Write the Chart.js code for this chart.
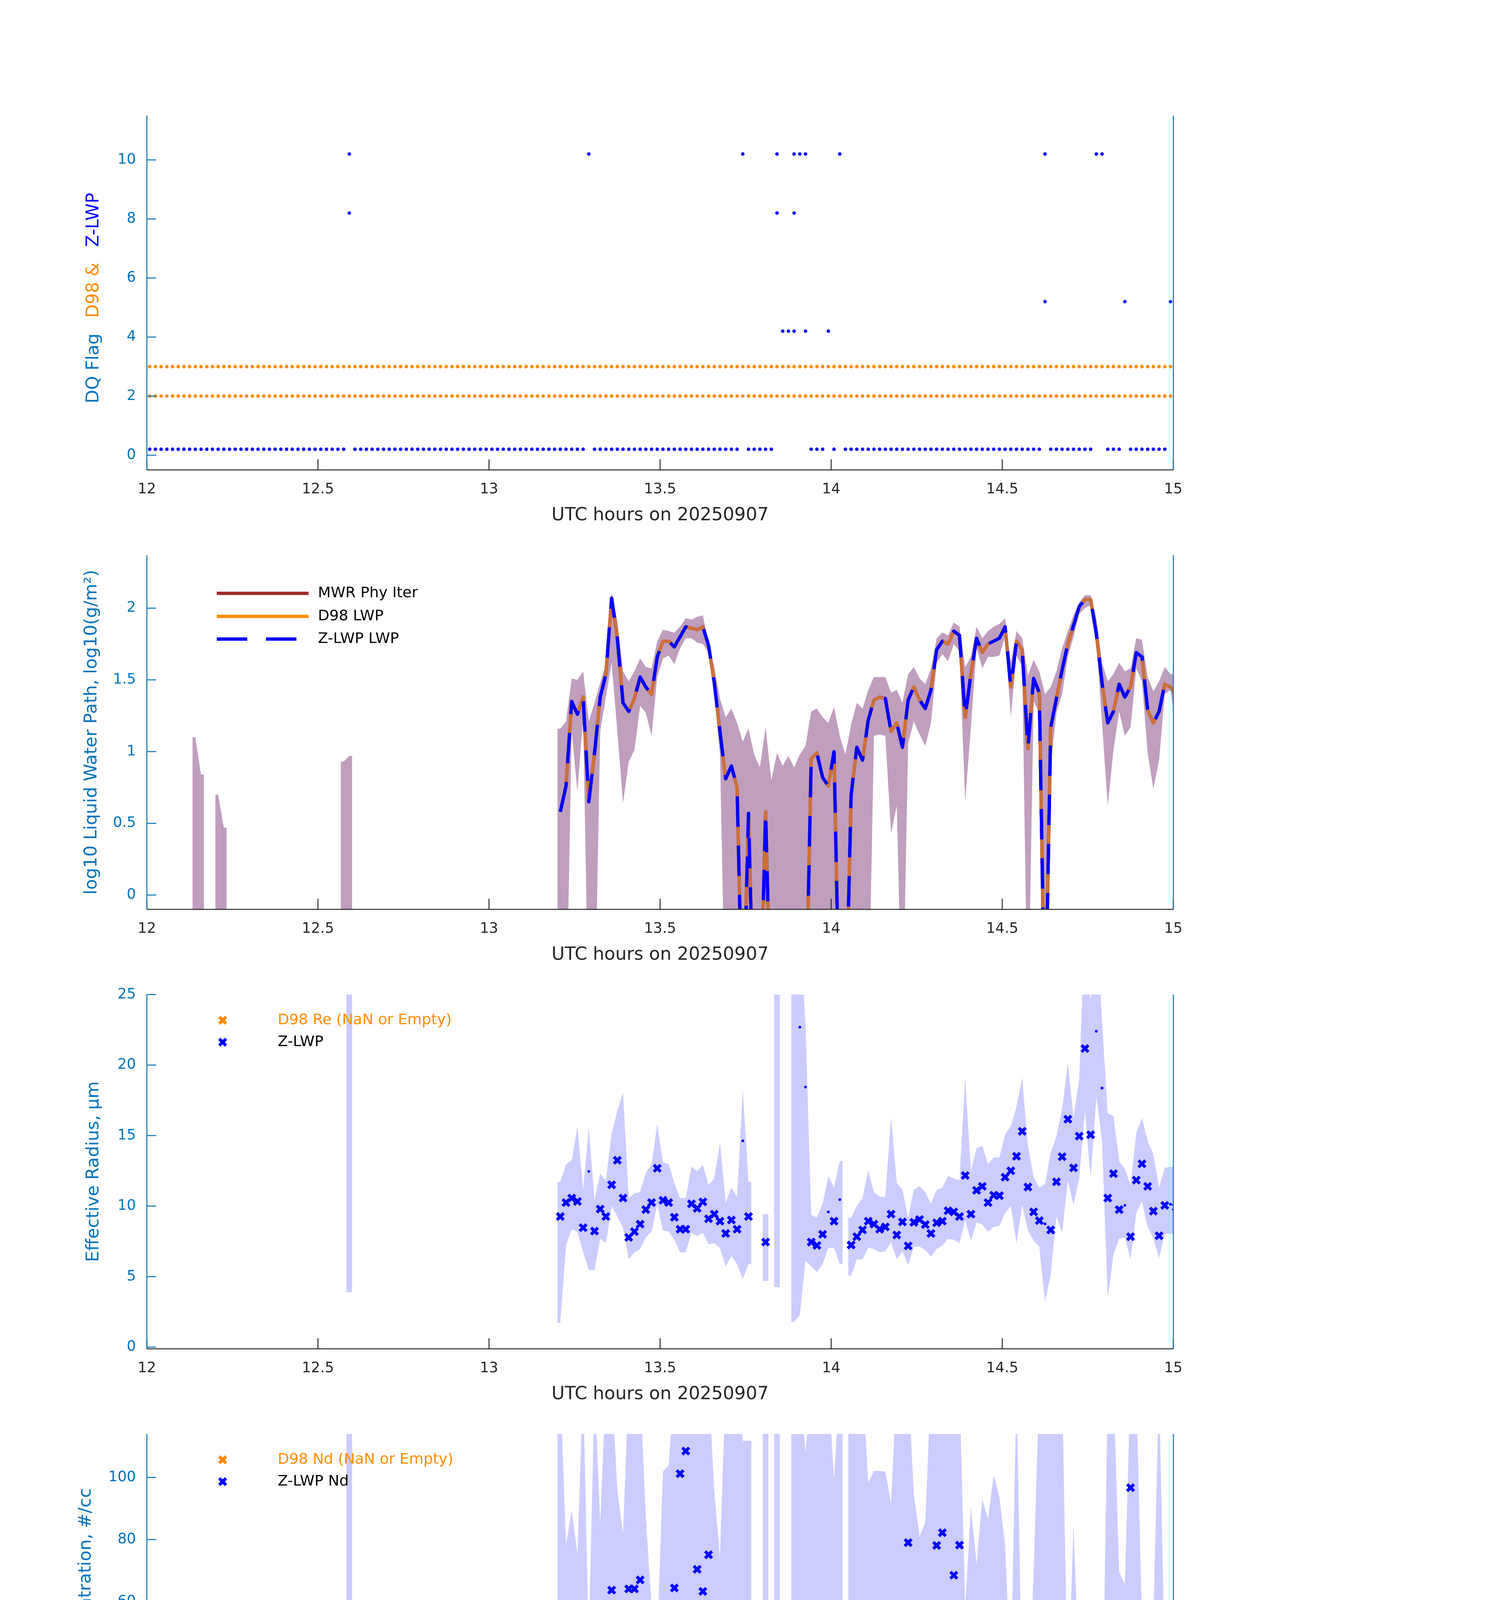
<!DOCTYPE html>
<html>
<head>
<meta charset="utf-8">
<title>Z-LWP retrievals 20250907</title>
<script src="https://cdn.jsdelivr.net/npm/chart.js@4.4.1/dist/chart.umd.min.js"></script>
<style>
    html, body { margin: 0; padding: 0; background: #ffffff; }
    body { width: 3825px; height: 6000px; position: relative; overflow: hidden; }
    canvas { position: absolute; left: 0; }
</style>
</head>
<body>
<script>
// ---------- TIME AXIS: one retrieval per minute, stamped mid-minute ----------
const tStart = 12;
const nMinutes = 181;
const times = [];
for (let i = 0; i < nMinutes; i++) times.push(tStart + (i + 0.5) / 60);
const halfStep = 0.5 / 60;

const MAIN = 72;   // first minute of the main cloud period (13:12 UTC)
const EARLY = 35;  // lone retrieval at 12:35 UTC

// ---------- TICKS ----------
const xTicks = [12, 12.5, 13, 13.5, 14, 14.5, 15];
const flagTicks = [0, 2, 4, 6, 8, 10];
const lwpTicks = [0, 0.5, 1, 1.5, 2];
const reTicks = [0, 5, 10, 15, 20, 25];
const ndTicks = [0, 20, 40, 60, 80, 100];
const odTicks = [0, 2, 4, 6, 8, 10, 12, 14, 16];

// ---------- PANEL 1: data quality flags (every minute 12:00-15:00) ----------
const zlwpFlag = [
    0,0,0,0,0,0,0,0,0,0,0,0,0,0,0,0,0,0,0,0,
    0,0,0,0,0,0,0,0,0,0,0,0,0,0,0,10,0,0,0,0,
    0,0,0,0,0,0,0,0,0,0,0,0,0,0,0,0,0,0,0,0,
    0,0,0,0,0,0,0,0,0,0,0,0,0,0,0,0,0,10,0,0,
    0,0,0,0,0,0,0,0,0,0,0,0,0,0,0,0,0,0,0,0,
    0,0,0,0,10,0,0,0,0,0,10,4,4,10,10,10,0,0,0,4,
    0,10,0,0,0,0,0,0,0,0,0,0,0,0,0,0,0,0,0,0,
    0,0,0,0,0,0,0,0,0,0,0,0,0,0,0,0,0,10,0,0,
    0,0,0,0,0,0,10,10,0,0,0,5,0,0,0,0,0,0,0,5,
    0
];
// minutes that carry a second flag
const zlwpFlagExtraIdx = [35, 110, 113, 113, 115, 157];
const zlwpFlagExtraVal = [8, 8, 8, 4, 4, 5];
const zlwpFlagOffset = 0.2; // Z-LWP flags are drawn just above the D98 rows

const d98FlagLow = [
    2,2,2,2,2,2,2,2,2,2,2,2,2,2,2,2,2,2,2,2,
    2,2,2,2,2,2,2,2,2,2,2,2,2,2,2,2,2,2,2,2,
    2,2,2,2,2,2,2,2,2,2,2,2,2,2,2,2,2,2,2,2,
    2,2,2,2,2,2,2,2,2,2,2,2,2,2,2,2,2,2,2,2,
    2,2,2,2,2,2,2,2,2,2,2,2,2,2,2,2,2,2,2,2,
    2,2,2,2,2,2,2,2,2,2,2,2,2,2,2,2,2,2,2,2,
    2,2,2,2,2,2,2,2,2,2,2,2,2,2,2,2,2,2,2,2,
    2,2,2,2,2,2,2,2,2,2,2,2,2,2,2,2,2,2,2,2,
    2,2,2,2,2,2,2,2,2,2,2,2,2,2,2,2,2,2,2,2,
    2
];
const d98FlagHigh = [
    3,3,3,3,3,3,3,3,3,3,3,3,3,3,3,3,3,3,3,3,
    3,3,3,3,3,3,3,3,3,3,3,3,3,3,3,3,3,3,3,3,
    3,3,3,3,3,3,3,3,3,3,3,3,3,3,3,3,3,3,3,3,
    3,3,3,3,3,3,3,3,3,3,3,3,3,3,3,3,3,3,3,3,
    3,3,3,3,3,3,3,3,3,3,3,3,3,3,3,3,3,3,3,3,
    3,3,3,3,3,3,3,3,3,3,3,3,3,3,3,3,3,3,3,3,
    3,3,3,3,3,3,3,3,3,3,3,3,3,3,3,3,3,3,3,3,
    3,3,3,3,3,3,3,3,3,3,3,3,3,3,3,3,3,3,3,3,
    3,3,3,3,3,3,3,3,3,3,3,3,3,3,3,3,3,3,3,3,
    3
];

// ---------- PANEL 2: log10 LWP (from minute 72) ----------
// -1 = LWP ~ 0, below the axis floor. MWR Phy Iter, D98 and Z-LWP coincide at this scale.
const lwpRetrieved = [
    0.58, 0.76, 1.35, 1.26, 1.38, 0.65, 0.99, 1.38, 1.54, 2.07,
    1.79, 1.34, 1.28, 1.37, 1.52, 1.45, 1.40, 1.66, 1.77, 1.77,
    1.73, 1.80, 1.87, 1.86, 1.85, 1.87, 1.74, 1.48, 1.14, 0.81,
    0.90, 0.75, -1, 0.57, -1, -1, 0.58, -1, -1, -1,
    -1, -1, -1, -1, 0.95, 0.99, 0.82, 0.76, 1.00, -1,
    -1, 0.70, 1.03, 0.94, 1.22, 1.36, 1.38, 1.37, 1.14, 1.20,
    1.03, 1.36, 1.45, 1.36, 1.30, 1.43, 1.71, 1.77, 1.75, 1.84,
    1.81, 1.24, 1.54, 1.79, 1.69, 1.75, 1.77, 1.79, 1.87, 1.45,
    1.77, 1.71, 1.02, 1.51, 1.41, -1, 1.17, 1.37, 1.57, 1.75,
    1.88, 2.01, 2.06, 2.06, 1.82, 1.48, 1.20, 1.28, 1.47, 1.38,
    1.45, 1.69, 1.66, 1.29, 1.20, 1.28, 1.47, 1.45, 1.39
];
const lwpBandUpper = [
    1.16, 1.21, 1.51, 1.50, 1.56, 1.21, 1.34, 1.48, 1.61, 2.11,
    1.91, 1.56, 1.49, 1.56, 1.65, 1.59, 1.58, 1.77, 1.85, 1.84,
    1.83, 1.87, 1.93, 1.92, 1.94, 1.95, 1.75, 1.59, 1.37, 1.24,
    1.30, 1.20, 1.07, 1.16, 0.98, 0.89, 1.17, 0.80, 0.99, 0.90,
    0.97, 0.89, 0.98, 1.04, 1.28, 1.30, 1.24, 1.20, 1.31, 1.11,
    0.98, 1.19, 1.34, 1.30, 1.43, 1.52, 1.52, 1.52, 1.41, 1.43,
    1.34, 1.54, 1.59, 1.51, 1.47, 1.58, 1.79, 1.83, 1.81, 1.90,
    1.87, 1.59, 1.66, 1.87, 1.79, 1.84, 1.87, 1.89, 1.93, 1.62,
    1.84, 1.79, 1.53, 1.64, 1.56, 1.40, 1.45, 1.56, 1.72, 1.84,
    1.95, 2.04, 2.09, 2.09, 1.93, 1.62, 1.49, 1.54, 1.62, 1.56,
    1.58, 1.79, 1.78, 1.52, 1.42, 1.49, 1.59, 1.54, 1.54
];
const lwpBandLower = [
    -1, -1, 1.14, 0.72, 1.24, -1, -1, 1.14, 1.38, 1.62,
    1.14, 0.64, 0.93, 1.01, 1.32, 1.27, 1.11, 1.52, 1.65, 1.67,
    1.61, 1.72, 1.79, 1.79, 1.76, 1.75, 1.69, 1.40, 0.98, -1,
    -1, -1, -1, -1, -1, -1, -1, -1, -1, -1,
    -1, -1, -1, -1, -1, -1, -1, -1, -1, -1,
    -1, -1, -1, -1, -1, 1.11, 1.12, 1.11, 0.43, 0.62,
    -1, 1.06, 1.21, 1.12, 1.04, 1.20, 1.62, 1.68, 1.63, 1.75,
    1.70, 0.65, 1.17, 1.72, 1.58, 1.66, 1.66, 1.67, 1.80, 1.24,
    1.67, 1.59, -1, 1.35, 1.27, -1, 0.91, 1.27, 1.40, 1.66,
    1.80, 1.96, 2.00, 2.02, 1.77, 1.20, 0.62, 1.01, 1.28, 1.11,
    1.17, 1.58, 1.49, 0.99, 0.74, 0.94, 1.40, 1.43, 1.16
];
// short MWR-only uncertainty patches before the main period
const lwpEarlyStart = [8, 12, 34];
const lwpEarlyUpper = [[1.10, 0.84], [0.70, 0.47], [0.93, 0.97]];
const lwpEarlyLower = [[-1, -1], [-1, -1], [-1, -1]];

// ---------- PANEL 3: effective radius (um, from minute 72) ----------
const reZlwp = [
    9.26, 10.25, 10.57, 10.33, 8.47, 12.46, 8.23, 9.79, 9.26, 11.51,
    13.25, 10.57, 7.78, 8.19, 8.72, 9.75, 10.25, 12.68, 10.41, 10.25,
    9.21, 8.36, 8.36, 10.16, 9.84, 10.30, 9.10, 9.43, 8.93, 8.06,
    9.01, 8.36, 14.63, 9.26, null, null, 7.45, null, null, null,
    null, null, 22.69, 18.44, 7.45, 7.21, 8.00, 9.59, 8.93, 10.46,
    null, 7.24, 7.83, 8.31, 8.93, 8.72, 8.36, 8.52, 9.43, 7.95,
    8.88, 7.18, 8.85, 9.05, 8.69, 8.06, 8.82, 8.93, 9.67, 9.59,
    9.26, 12.17, 9.43, 11.12, 11.40, 10.25, 10.77, 10.74, 12.05, 12.50,
    13.53, 15.30, 11.35, 9.59, 8.97, 8.74, 8.31, 11.72, 13.50, 16.16,
    12.71, 14.96, 21.17, 15.06, 22.40, 18.37, 10.57, 12.30, 9.75, 10.05,
    7.83, 11.84, 13.00, 11.40, 9.64, 7.90, 10.05, 10.13, 9.92
];
const reBandUpper = [
    11.72, 12.96, 13.25, 15.67, 11.15, 15.58, 10.41, 12.30, 11.81, 15.17,
    16.73, 18.05, 10.57, 10.90, 10.99, 12.38, 12.96, 15.83, 13.12, 12.96,
    11.64, 10.57, 10.57, 12.79, 12.46, 12.92, 11.48, 11.97, 14.52, 10.25,
    11.31, 10.66, 18.26, 11.72, null, null, 9.43, null, 30, null,
    null, 30, 30, 22.86, 9.38, 9.18, 10.16, 12.13, 11.31, 13.20,
    null, 9.18, 10.00, 10.57, 12.54, 10.99, 10.66, 10.66, 16.32, 11.64,
    11.15, 9.18, 11.15, 11.40, 10.99, 10.16, 11.15, 11.31, 12.13, 11.97,
    11.81, 19.11, 12.46, 14.10, 14.27, 12.96, 13.45, 13.45, 15.09, 15.67,
    17.06, 19.11, 14.27, 12.05, 11.31, 11.56, 13.78, 14.93, 16.90, 20.18,
    16.24, 19.03, 30, 24.48, 30, 23.14, 16.57, 16.40, 13.20, 12.63,
    11.48, 15.17, 16.24, 14.60, 13.69, 11.31, 12.71, 12.79, 12.79
];
const reBandLower = [
    1.71, 7.21, 8.36, 8.19, 6.72, 5.48, 5.48, 7.70, 7.37, 10.00,
    9.26, 8.44, 6.26, 6.72, 6.96, 7.78, 8.19, 10.08, 8.28, 8.19,
    7.62, 6.72, 6.72, 8.11, 7.87, 8.11, 7.29, 7.37, 7.04, 5.73,
    6.47, 5.89, 4.83, 5.89, null, null, 4.70, null, 4.25, null,
    null, 1.79, 2.28, 6.14, 5.73, 5.32, 5.89, 7.04, 7.04, 5.89,
    null, 5.07, 6.22, 6.22, 7.04, 6.96, 6.72, 6.80, 7.45, 6.22,
    6.80, 5.81, 7.13, 7.13, 6.88, 6.42, 6.96, 7.21, 7.67, 7.62,
    7.37, 9.01, 7.54, 8.85, 8.69, 8.19, 8.52, 8.60, 9.51, 10.00,
    7.37, 10.08, 8.28, 7.54, 7.13, 3.19, 5.16, 9.26, 8.11, 11.81,
    10.08, 11.97, 16.73, 11.97, 17.80, 14.60, 3.51, 6.55, 7.70, 7.78,
    6.22, 9.51, 10.33, 8.52, 7.70, 6.31, 8.03, 8.03, 8.06
];
const reEarlyUpper = [30];
const reEarlyLower = [3.89];

// ---------- PANEL 4: droplet concentration (#/cc, from minute 72) ----------
const ndZlwp = [
    9.4, 9.4, 30.9, 25.2, 48.4, 3.7, 40.4, 35.7, 58.7, 63.7,
    24.0, 24.9, 64.1, 64.1, 67.0, 41.9, 25.8, 23.2, 51.0, 51.8,
    64.4, 101.2, 108.5, 55.3, 70.4, 63.3, 75.1, 51.9, 23.4, 21.5,
    17.0, 14.5, 0.3, 7.0, null, null, 21.3, null, 0, null,
    null, 0, 0, 0, 44.1, 53.6, 25.8, 14.6, 23.1, 4.6,
    null, 26.2, 38.3, 23.4, 36.9, 34.0, 49.3, 47.8, 27.9, 58.1,
    27.2, 79.0, 47.1, 39.9, 39.6, 53.3, 78.1, 82.2, 58.9, 68.5,
    78.2, 9.4, 45.2, 35.7, 32.4, 43.1, 50.4, 46.9, 38.7, 16.0,
    24.9, 14.0, 12.5, 43.7, 56.4, 1.3, 56.4, 15.9, 19.6, 13.3,
    29.4, 18.4, 7.2, 27.7, 3.4, 3.8, 22.8, 11.6, 26.3, 29.8,
    96.7, 28.4, 20.4, 19.9, 20.2, 50.7, 19.1, 25.2, 16.9
];
// 130 = beyond the top of the axis
const ndBandUpper = [
    130, 78.1, 89.6, 75.1, 130, 45.2, 130, 85.1, 130, 130,
    96.0, 81.8, 130, 130, 130, 87.0, 58.7, 47.1, 101.9, 103.8,
    130, 130, 130, 130, 130, 130, 130, 95.6, 74.3, 130,
    130, 130, 111.8, 111.8, null, null, 130, null, 130, null,
    null, 130, 130, 108, 130, 130, 130, 130, 99.1, 130,
    null, 130, 130, 130, 98.2, 102.1, 102.1, 101.9, 91.5, 130,
    130, 130, 94.5, 81.0, 85.5, 130, 130, 130, 130, 130,
    130, 57.9, 90.4, 72.1, 93.0, 86.6, 100.8, 93.7, 78.1, 34.8,
    130, 28.4, 19.9, 69.1, 130, 130, 130, 130, 130, 28.1,
    85.1, 34.0, 9.4, 55.3, 7.2, 7.5, 130, 130, 69.5, 65.5,
    130, 130, 53.4, 46.7, 54.9, 130, 38.9, 50.6, 34.4
];
const ndBandLower = [
    3.7, 4.6, 10.1, 2.3, 9.4, 1.8, 19.5, 9.8, 26.9, 31.0,
    12.4, 1.2, 11.6, 12.4, 26.9, 16.1, 6.4, 11.6, 25.4, 26.2,
    32.2, 50.4, 53.8, 28.1, 35.1, 31.8, 37.4, 22.1, 1.2, 10.5,
    7.9, 7.2, 3.1, 3.4, null, null, 10.7, null, 0, null,
    null, 0, 0, 0, 21.2, 25.4, 12.5, 7.5, 11.6, 2.3,
    null, 12.5, 19.1, 12.4, 4.9, 10.1, 15.4, 13.5, 1.2, 4.9,
    13.9, 19.1, 16.9, 12.8, 11.6, 21.3, 39.3, 41.1, 29.6, 34.4,
    38.9, 1.2, 22.1, 17.6, 16.5, 22.5, 25.1, 23.2, 18.4, 5.7,
    12.4, 6.8, 6.4, 16.1, 24.0, 1.2, 3.4, 5.7, 9.4, 6.8,
    27.3, 13.5, 3.6, 6.8, 1.6, 1.6, 2.2, 2.3, 13.9, 7.9,
    39.4, 13.9, 4.9, 3.1, 7.2, 9.8, 8.3, 14.6, 13.9
];
const ndEarly = [0];
const ndEarlyUpper = [130];
const ndEarlyLower = [0];

// ---------- PANEL 5: optical depth (from minute 72) ----------
const odZlwp = [
    0.66, 0.88, 3.22, 2.66, 4.25, 0.58, 2.00, 3.70, 6.11, 15.39,
    8.52, 3.17, 3.83, 4.28, 5.82, 4.52, 3.77, 5.50, 8.48, 8.66,
    8.82, 11.32, 13.55, 10.77, 11.00, 10.71, 9.35, 6.03, 2.34, 1.22,
    1.36, 1.03, 0.07, 0.64, null, null, 0.80, null, 0.03, null,
    null, 0.03, 0.03, 0.03, 1.86, 2.07, 1.33, 0.94, 1.72, 0.35,
    null, 1.09, 2.13, 1.59, 2.84, 4.01, 4.30, 4.22, 2.25, 3.08,
    1.89, 4.89, 4.76, 3.88, 3.59, 5.07, 8.89, 9.99, 8.66, 11.10,
    10.47, 2.16, 6.09, 8.34, 6.50, 8.15, 8.24, 8.45, 9.25, 3.54,
    6.66, 5.08, 1.43, 5.19, 4.36, 0.16, 2.87, 3.13, 5.02, 5.58,
    9.88, 10.47, 8.10, 11.40, 5.35, 2.53, 2.28, 2.34, 5.23, 3.74,
    5.45, 6.32, 5.39, 2.71, 2.53, 3.77, 4.55, 4.28, 3.95
];
// 17 = beyond the top of the axis
const odBandUpper = [
    3.83, 3.61, 5.31, 5.47, 7.65, 3.03, 5.31, 5.95, 8.82, 17,
    11.48, 6.93, 6.96, 7.76, 8.77, 6.89, 6.54, 7.70, 11.16, 10.95,
    11.96, 14.67, 17, 13.55, 14.08, 14.29, 11.90, 6.48, 4.99, 4.68,
    4.73, 4.36, 3.83, 3.79, null, null, 4.96, null, 3.61, null,
    null, 7.23, 6.16, 2.71, 5.26, 5.58, 4.62, 3.56, 4.52, 3.24,
    null, 4.70, 5.47, 4.99, 5.53, 6.64, 6.99, 6.96, 4.94, 6.32,
    4.94, 8.45, 7.54, 6.16, 6.00, 7.44, 11.64, 12.49, 11.48, 13.94,
    13.23, 4.68, 8.50, 10.52, 8.71, 10.26, 10.36, 10.95, 11.58, 5.74,
    12.33, 6.48, 3.61, 7.60, 6.48, 6.96, 6.11, 4.89, 8.45, 7.39,
    12.86, 13.16, 8.93, 14.37, 6.75, 3.67, 6.70, 3.61, 7.28, 6.32,
    8.18, 8.45, 7.86, 4.84, 5.21, 6.75, 6.75, 6.75, 6.22
];
const odBandLower = [
    0.20, 0.64, 1.49, 0.53, 1.43, 0.48, 1.59, 1.54, 4.25, 12.33,
    7.55, 0.43, 1.28, 1.49, 3.19, 2.44, 1.54, 4.04, 6.00, 6.48,
    6.00, 7.44, 10.57, 8.55, 8.02, 7.39, 6.96, 4.36, 0.37, 1.12,
    1.06, 0.90, 0, 0, null, null, 0.64, null, 0, null,
    null, 0, 0, 0, 1.49, 1.65, 1.17, 0.74, 1.38, 0.27,
    null, 0.90, 1.54, 1.17, 0.74, 1.81, 2.02, 1.86, 0.27, 0.64,
    1.54, 1.75, 2.34, 1.86, 1.59, 2.55, 6.38, 7.54, 6.16, 8.82,
    8.40, 0.43, 4.57, 6.80, 4.62, 6.27, 6.29, 6.06, 7.44, 1.75,
    5.79, 4.89, 0.85, 3.03, 2.50, 0.11, 0.43, 1.59, 4.04, 4.20,
    7.92, 8.45, 6.54, 7.01, 4.30, 1.54, 0.43, 0.74, 3.35, 1.59,
    3.03, 4.30, 3.08, 1.06, 0.69, 1.22, 2.82, 2.82, 1.91
];
const odEarly = [0.04];
const odEarlyUpper = [3.72];
const odEarlyLower = [0];

// ---------- STYLE ----------
const FONT = 'DejaVu Sans';
const AXIS = '#0072bd';
const TEXT = '#262626';
const BLUE = '#0000ff';
const ORANGE = '#ff8c00';
const BROWN = '#a52a2a';
const D98_LINE = '#cc7038';
const LWP_BAND = '#c09ebe';
const ZLWP_BAND = '#ccccff';

const PAGE_W = 3825;
const PLOT_L = 376;
const PLOT_R = 3004;
const PAD_TOP = 100;
const X_AXIS_H = 150;
const X_TITLE = 'UTC hours on 20250907';

const CROSS_R = 12.3;   // crossRot radius
const CROSS_W = 8;      // cross stroke

Chart.defaults.font.family = FONT;

// ---------- HELPERS ----------
// put value runs into a full-length minute array
function place(runs) {
    const out = new Array(nMinutes).fill(null);
    runs.forEach(([start, vals]) => vals.forEach((v, k) => { out[start + k] = v; }));
    return out;
}

function xy(vals) {
    return vals.map((v, i) => ({ x: times[i], y: v }));
}

// band patches reach half a sample beyond their first and last minute
function bandPoints(vals) {
    const pts = [];
    vals.forEach((v, i) => {
        if (v === null) { pts.push({ x: times[i], y: null }); return; }
        if (i === 0 || vals[i - 1] === null) pts.push({ x: times[i] - halfStep, y: v });
        pts.push({ x: times[i], y: v });
        if (i === vals.length - 1 || vals[i + 1] === null) pts.push({ x: times[i] + halfStep, y: v });
    });
    return pts;
}

function dots(data, color, r) {
    return { data, showLine: false, pointStyle: 'circle', pointRadius: r, pointBorderWidth: 0,
             pointBackgroundColor: color, borderColor: color };
}

function crosses(data, color) {
    return { data, showLine: false, pointStyle: 'crossRot', pointRadius: CROSS_R, pointBorderWidth: CROSS_W,
             pointBorderColor: color, pointBackgroundColor: color, borderColor: color };
}

function band(upper, lower, color) {
    return [
        { data: bandPoints(upper), fill: '+1', backgroundColor: color, borderColor: 'rgba(0,0,0,0)',
          borderWidth: 0, pointRadius: 0, tension: 0 },
        { data: bandPoints(lower), fill: false, borderColor: 'rgba(0,0,0,0)',
          borderWidth: 0, pointRadius: 0, tension: 0 }
    ];
}

// good retrievals as crosses, flagged minutes as dots
function retrievalSets(vals) {
    const good = vals.map((v, i) => (zlwpFlag[i] === 0 ? v : null));
    const flagged = vals.map((v, i) => (zlwpFlag[i] !== 0 ? v : null));
    return [crosses(xy(good), BLUE), dots(xy(flagged), BLUE, 3.5)];
}

// ---------- FRAME, TITLES, LEGEND ----------
function framePlugin(p, canvasTop) {
    return {
        id: 'frame',
        afterDraw(chart) {
            const ctx = chart.ctx;
            const a = chart.chartArea;
            const xs = chart.scales.x;
            const ys = chart.scales.y;
            const seg = (x1, y1, x2, y2) => { ctx.beginPath(); ctx.moveTo(x1, y1); ctx.lineTo(x2, y2); ctx.stroke(); };

            ctx.save();
            ctx.lineCap = 'butt';
            ctx.lineWidth = 2.5;

            // inward ticks and axis lines
            ctx.strokeStyle = TEXT;
            xTicks.forEach(v => { const px = xs.getPixelForValue(v); seg(px, a.bottom, px, a.bottom - 27); });
            seg(a.left, a.bottom, a.right, a.bottom);
            ctx.strokeStyle = AXIS;
            p.yTicks.forEach(v => { const py = ys.getPixelForValue(v); seg(a.left, py, a.left + 24, py); });
            seg(a.left, a.top, a.left, a.bottom);
            seg(a.right, a.top, a.right, a.bottom);

            // x title
            ctx.fillStyle = TEXT;
            ctx.font = '46px "' + FONT + '"';
            ctx.textAlign = 'center';
            ctx.textBaseline = 'middle';
            ctx.fillText(X_TITLE, (a.left + a.right) / 2, a.bottom + 117);

            // y title (may be several coloured parts)
            ctx.save();
            ctx.font = '45px "' + FONT + '"';
            const gap = 40;
            const widths = p.yTitle.map(part => ctx.measureText(part.text).width);
            const total = widths.reduce((s, w) => s + w, 0) + gap * (p.yTitle.length - 1);
            const cy = p.yTitleY !== undefined ? p.yTitleY - canvasTop : (a.top + a.bottom) / 2;
            ctx.translate(p.yTitleX, cy);
            ctx.rotate(-Math.PI / 2);
            ctx.textAlign = 'left';
            let tx = -total / 2;
            p.yTitle.forEach((part, k) => {
                ctx.fillStyle = part.color;
                ctx.fillText(part.text, tx, 0);
                tx += widths[k] + gap;
            });
            ctx.restore();

            // legend
            if (p.legend) {
                const lg = p.legend;
                lg.items.forEach((it, k) => {
                    const y = lg.rows[k] - canvasTop;
                    ctx.strokeStyle = it.color;
                    if (it.kind === 'x') {
                        const h = CROSS_R * Math.SQRT1_2;
                        ctx.lineWidth = CROSS_W;
                        seg(lg.markerX - h, y - h, lg.markerX + h, y + h);
                        seg(lg.markerX - h, y + h, lg.markerX + h, y - h);
                    } else {
                        ctx.lineWidth = 8.5;
                        ctx.setLineDash(it.kind === 'dash' ? [78, 48] : []);
                        seg(lg.lineX0, y, lg.lineX1, y);
                        ctx.setLineDash([]);
                    }
                    ctx.fillStyle = it.textColor;
                    ctx.font = '38px "' + FONT + '"';
                    ctx.textAlign = 'left';
                    ctx.textBaseline = 'middle';
                    ctx.fillText(it.text, lg.textX, y);
                });
            }
            ctx.restore();
        }
    };
}

// ---------- ONE CANVAS PER PANEL ----------
function makePanel(p) {
    const height = PAD_TOP + (p.bottom - p.top) + X_AXIS_H;
    const canvasTop = p.top - PAD_TOP;
    const canvas = document.createElement('canvas');
    canvas.width = PAGE_W;
    canvas.height = height;
    canvas.style.top = canvasTop + 'px';
    canvas.style.width = PAGE_W + 'px';
    canvas.style.height = height + 'px';
    document.body.appendChild(canvas);

    const tickFont = { family: FONT, size: 37 };
    return new Chart(canvas.getContext('2d'), {
        type: 'line',
        data: { datasets: p.datasets },
        options: {
            responsive: false,
            animation: false,
            devicePixelRatio: 1,
            events: [],
            layout: { padding: { top: PAD_TOP, right: PAGE_W - PLOT_R, left: 0, bottom: 0 } },
            plugins: { legend: { display: false }, tooltip: { enabled: false } },
            scales: {
                x: {
                    type: 'linear', min: 12, max: 15,
                    grid: { display: false, drawTicks: false },
                    border: { display: false },
                    afterBuildTicks: s => { s.ticks = xTicks.map(v => ({ value: v })); },
                    afterFit: s => { s.height = X_AXIS_H; },
                    ticks: { autoSkip: false, maxRotation: 0, padding: 28, color: TEXT, font: tickFont,
                             callback: v => String(v) }
                },
                y: {
                    type: 'linear', min: p.yMin, max: p.yMax,
                    grid: { display: false, drawTicks: false },
                    border: { display: false },
                    afterBuildTicks: s => { s.ticks = p.yTicks.map(v => ({ value: v })); },
                    afterFit: s => { s.width = PLOT_L; },
                    ticks: { autoSkip: false, padding: 28, color: AXIS, font: tickFont,
                             callback: v => String(v) }
                }
            }
        },
        plugins: [framePlugin(p, canvasTop)]
    });
}

// ---------- BUILD ----------
const reAll = place([[MAIN, reZlwp]]);
const ndAll = place([[EARLY, ndEarly], [MAIN, ndZlwp]]);
const odAll = place([[EARLY, odEarly], [MAIN, odZlwp]]);
const lwpAll = place([[MAIN, lwpRetrieved]]);
const lwpUpAll = place(lwpEarlyStart.map((s, k) => [s, lwpEarlyUpper[k]]).concat([[MAIN, lwpBandUpper]]));
const lwpLoAll = place(lwpEarlyStart.map((s, k) => [s, lwpEarlyLower[k]]).concat([[MAIN, lwpBandLower]]));

const lineBase = { pointRadius: 0, tension: 0, fill: false, borderWidth: 8.5,
                   borderJoinStyle: 'round', borderCapStyle: 'butt' };

const panels = [
    {
        top: 296, bottom: 1203, yMin: -0.5, yMax: 11.5, yTicks: flagTicks,
        yTitleX: 240, yTitleY: 763,
        yTitle: [{ text: 'DQ Flag', color: AXIS }, { text: 'D98 &', color: ORANGE }, { text: 'Z-LWP', color: BLUE }],
        datasets: [
            dots(zlwpFlag.map((f, i) => ({ x: times[i], y: f + zlwpFlagOffset })), BLUE, 4.5),
            dots(zlwpFlagExtraIdx.map((idx, k) => ({ x: times[idx], y: zlwpFlagExtraVal[k] + zlwpFlagOffset })), BLUE, 4.5),
            dots(xy(d98FlagLow), ORANGE, 4.5),
            dots(xy(d98FlagHigh), ORANGE, 4.5)
        ]
    },
    {
        top: 1421, bottom: 2328, yMin: -0.1, yMax: 2.37, yTicks: lwpTicks,
        yTitleX: 235,
        yTitle: [{ text: 'log10 Liquid Water Path, log10(g/m\u00b2)', color: AXIS }],
        legend: {
            rows: [1519, 1578, 1636], lineX0: 555, lineX1: 790, textX: 814,
            items: [
                { kind: 'line', color: BROWN, text: 'MWR Phy Iter', textColor: '#000000' },
                { kind: 'line', color: ORANGE, text: 'D98 LWP', textColor: '#000000' },
                { kind: 'dash', color: BLUE, text: 'Z-LWP LWP', textColor: '#000000' }
            ]
        },
        datasets: [
            Object.assign({ data: xy(lwpAll), borderColor: BLUE, borderDash: [78, 48] }, lineBase),
            Object.assign({ data: xy(lwpAll), borderColor: D98_LINE }, lineBase),
            Object.assign({ data: xy(lwpAll), borderColor: BROWN }, lineBase)
        ].concat(band(lwpUpAll, lwpLoAll, LWP_BAND))
    },
    {
        top: 2546, bottom: 3453, yMin: -0.12, yMax: 25, yTicks: reTicks,
        yTitleX: 240,
        yTitle: [{ text: 'Effective Radius, \u03bcm', color: AXIS }],
        legend: {
            rows: [2612, 2668], markerX: 570, textX: 711,
            items: [
                { kind: 'x', color: ORANGE, text: 'D98 Re (NaN or Empty)', textColor: ORANGE },
                { kind: 'x', color: BLUE, text: 'Z-LWP', textColor: '#000000' }
            ]
        },
        datasets: retrievalSets(reAll)
            .concat([crosses([], ORANGE)])
            .concat(band(place([[EARLY, reEarlyUpper], [MAIN, reBandUpper]]),
                         place([[EARLY, reEarlyLower], [MAIN, reBandLower]]), ZLWP_BAND))
    },
    {
        top: 3671, bottom: 4578, yMin: -0.13, yMax: 114, yTicks: ndTicks,
        yTitleX: 220,
        yTitle: [{ text: 'Droplet Concentration, #/cc', color: AXIS }],
        legend: {
            rows: [3737, 3793], markerX: 570, textX: 711,
            items: [
                { kind: 'x', color: ORANGE, text: 'D98 Nd (NaN or Empty)', textColor: ORANGE },
                { kind: 'x', color: BLUE, text: 'Z-LWP Nd', textColor: '#000000' }
            ]
        },
        datasets: retrievalSets(ndAll)
            .concat([crosses([], ORANGE)])
            .concat(band(place([[EARLY, ndEarlyUpper], [MAIN, ndBandUpper]]),
                         place([[EARLY, ndEarlyLower], [MAIN, ndBandLower]]), ZLWP_BAND))
    },
    {
        top: 4795, bottom: 5703, yMin: -0.09, yMax: 16.19, yTicks: odTicks,
        yTitleX: 240,
        yTitle: [{ text: 'Optical Depth', color: AXIS }],
        legend: {
            rows: [4864, 4920], markerX: 782, textX: 923,
            items: [
                { kind: 'x', color: ORANGE, text: 'D98 OD (NaN or Empty)', textColor: ORANGE },
                { kind: 'x', color: BLUE, text: 'Z-LWP Nd', textColor: '#000000' }
            ]
        },
        datasets: retrievalSets(odAll)
            .concat([crosses([], ORANGE)])
            .concat(band(place([[EARLY, odEarlyUpper], [MAIN, odBandUpper]]),
                         place([[EARLY, odEarlyLower], [MAIN, odBandLower]]), ZLWP_BAND))
    }
];

panels.forEach(makePanel);
</script>
</body>
</html>
